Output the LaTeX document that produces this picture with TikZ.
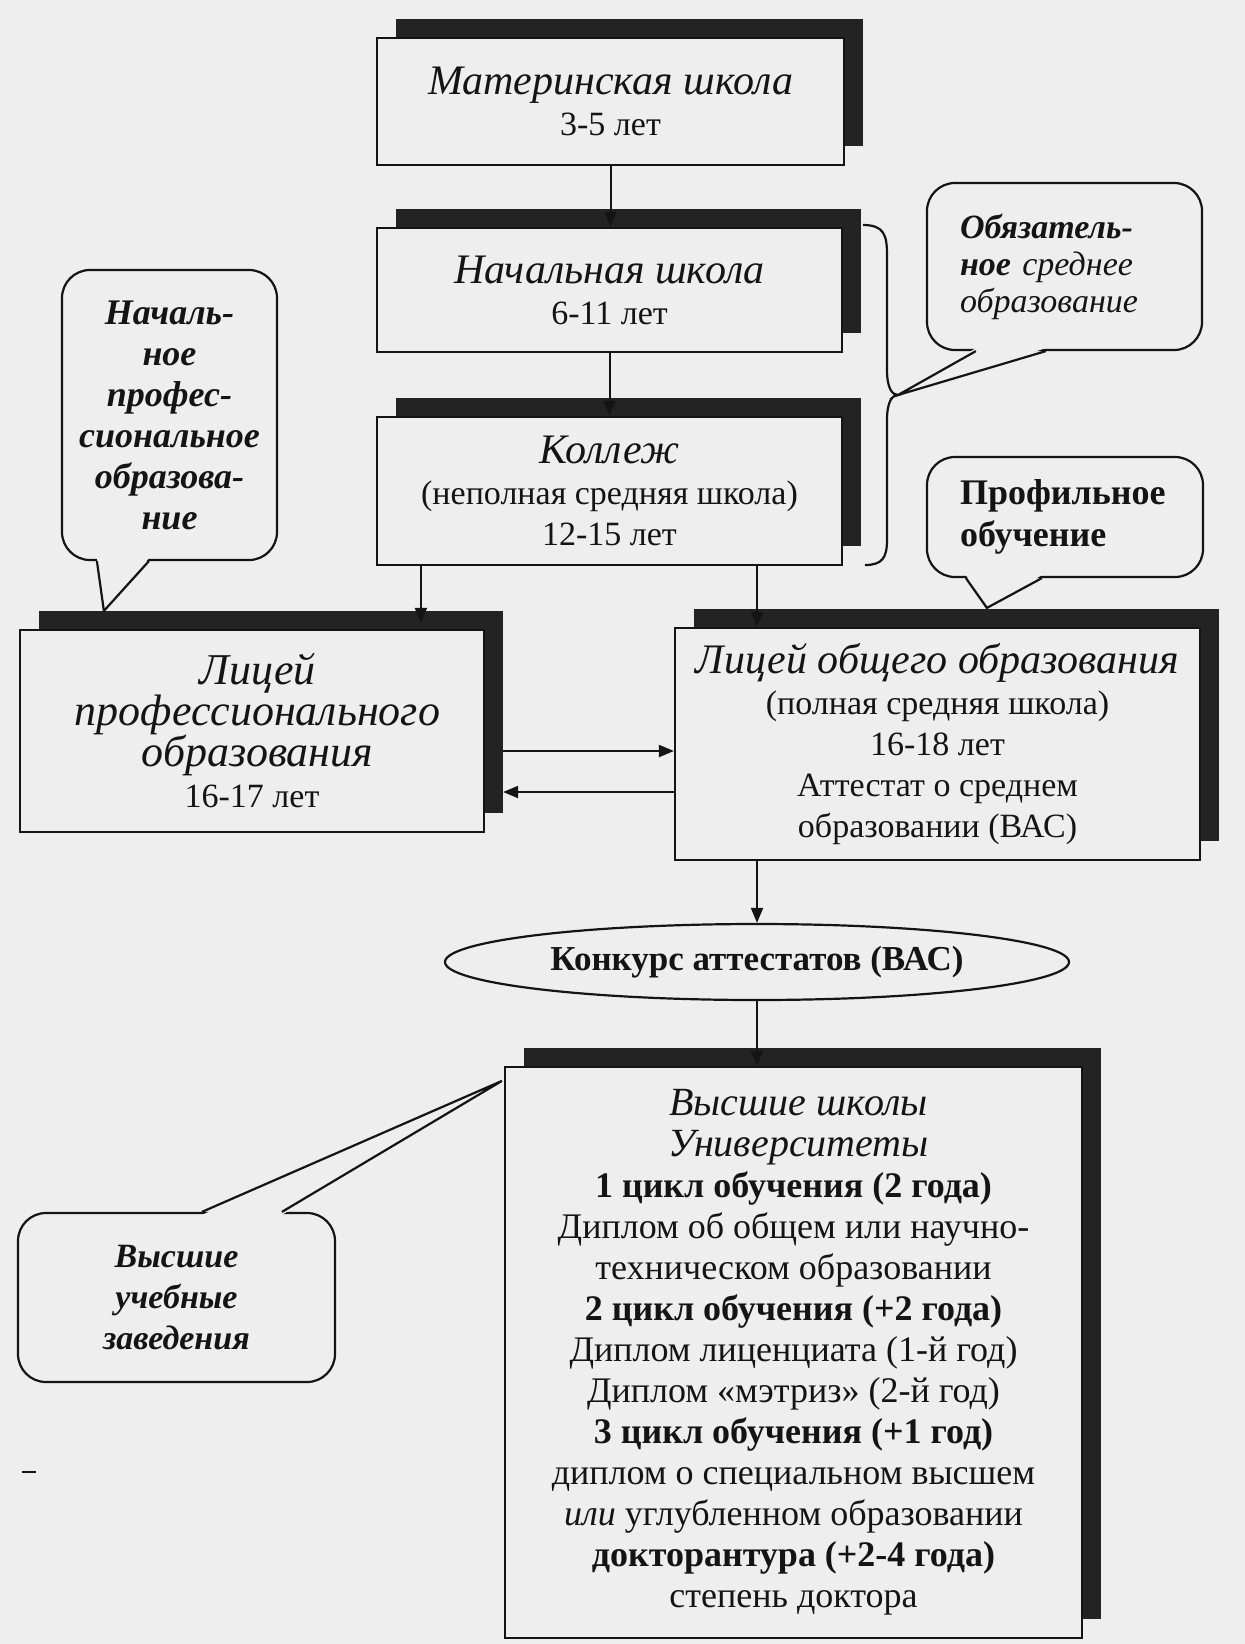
\documentclass[tikz,border=0pt]{standalone}
\usepackage{fontspec}
\setmainfont{Liberation Serif}
\usetikzlibrary{shapes.geometric,shadows,arrows.meta,calc}
\definecolor{paper}{RGB}{238,238,238}
\definecolor{ink}{RGB}{20,20,20}
\definecolor{shade}{RGB}{35,35,35}
\newcommand\TitF[1][21]{\fontsize{#1}{20.5}\selectfont\itshape}
\newcommand\RegF[1][17]{\fontsize{#1}{20.5}\selectfont\upshape}
\begin{document}
\begin{tikzpicture}[x=0.5pt,y=-0.5pt,
  box/.style={draw=ink,line width=1.1pt,fill=paper,inner sep=0pt,align=center,text=ink,
     font=\RegF,
     general shadow={fill=shade,shadow xshift=9.5pt,shadow yshift=9.5pt}},
  callout/.style={draw=ink,line width=1.1pt,fill=paper,rounded corners=14pt,inner sep=0pt,text=ink},
  calfont/.style={font=\fontsize{17}{20.5}\selectfont\bfseries\itshape},
  arr/.style={draw=ink,line width=1pt,-{Triangle[length=7.5pt,width=6pt]}},
  link/.style={draw=ink,line width=1.1pt,line join=miter},
]
\fill[paper] (0,0) rectangle (1245,1644);
\useasboundingbox (0,0) rectangle (1245,1644);

% boxes
\node[box,minimum width=233.5pt,minimum height=63.5pt] (b1) at (610.5,101.5)
  {{\TitF Материнская школа}\\3-5 лет};
\node[box,minimum width=232.5pt,minimum height=62pt] (b2) at (609.5,290)
  {{\TitF Начальная школа}\\6-11 лет};
\node[box,minimum width=232.5pt,minimum height=74pt] (b3) at (609.5,491)
  {{\TitF Коллеж}\\(неполная средняя школа)\\12-15 лет};
\node[box,minimum width=232pt,minimum height=101pt] (b4) at (252,731)
  {{\TitF[22] Лицей}\\{\TitF[22] профессионального}\\{\TitF[22] образования}\\16-17 лет};
\node[box,minimum width=262.5pt,minimum height=116pt] (b5) at (937.5,744)
  {{\TitF Лицей общего образования}\\(полная средняя школа)\\16-18 лет\\Аттестат о среднем\\образовании (ВАС)};
\node[draw=ink,line width=1.1pt,fill=paper,ellipse,minimum width=312pt,minimum height=38pt,inner sep=0pt,
  font=\fontsize{17.5}{20.5}\selectfont\bfseries,text=ink] (e) at (757,962) {Конкурс аттестатов (ВАС)};
\node[box,minimum width=288.5pt,minimum height=285.5pt,font={\RegF[18]}] (b6) at (793.5,1352.5)
  {{\TitF[20] Высшие школы}\\{\TitF[20] Университеты}\\\textbf{1 цикл обучения (2 года)}\\
   Диплом об общем или научно-\\техническом образовании\\\textbf{2 цикл обучения (+2 года)}\\
   Диплом лиценциата (1-й год)\\Диплом «мэтриз» (2-й год)\\\textbf{3 цикл обучения (+1 год)}\\
   диплом о специальном высшем\\\textit{или} углубленном образовании\\\textbf{докторантура (+2-4 года)}\\
   степень доктора};

% callouts
\node[callout,font=\fontsize{18}{20.5}\selectfont\bfseries\itshape,align=center,minimum width=107.5pt,minimum height=145pt] (c1) at (169.5,415)
  {Началь-\\ное\\профес-\\сиональное\\образова-\\ние};
\node[callout,font=\fontsize{17}{18.5}\selectfont\itshape,align=left,text width=104.5pt,inner xsep=16.5pt,
  minimum width=137.5pt,minimum height=83.5pt] (c2) at (1064.5,266.5)
  {\textbf{Обязатель-}\\\textbf{ное} среднее\\образование};
\node[callout,font=\fontsize{18}{21}\selectfont\bfseries,align=left,text width=105pt,inner xsep=16.5pt,
  minimum width=138pt,minimum height=60pt] (c3) at (1065,517)
  {Профильное\\обучение};
\node[callout,calfont,align=center,minimum width=158.5pt,minimum height=84.5pt] (c4) at (176.5,1297.5)
  {Высшие\\учебные\\заведения};

% connectors
\draw[arr] (b1.south) -- (b1.south |- b2.north);
\draw[arr] (b2.south) -- (b2.south |- b3.north);
\coordinate (k1) at ($(b3.south west)+(45,0)$);
\coordinate (k2) at ($(b3.south west)+(381,0)$);
\draw[arr] (k1) -- ($(k1 |- b4.north)+(0,-6)$);
\draw[arr] (k2) -- (k2 |- b5.north);
\coordinate (a1) at ($(b4.east)+(18,20)$);
\coordinate (a2) at ($(b4.east)+(18,61)$);
\draw[arr] (a1) -- (a1 -| b5.west);
\draw[arr] (a2 -| b5.west) -- (a2);
\draw[arr] (e.north |- b5.south) -- (e.north);
\draw[arr] (e.south) -- (e.south |- b6.north);

% brace
\coordinate (bt) at (898,395);
\draw[link] (863,225) .. controls (884,225) and (887,235) .. (887,255) -- (887,370)
  .. controls (887,388) and (892,395) .. (bt)
  .. controls (892,395) and (887,402) .. (887,420) -- (887,540)
  .. controls (887,558) and (882,565) .. (865,565);

% callout tails
\coordinate (t1a) at ($(c1.south west)+(36,0)$);
\coordinate (t1b) at ($(c1.south west)+(88,0)$);
\coordinate (t1) at ($(b4.north west)+(85,-18)$);
\fill[paper] ($(t1a)+(0,-3)$) -- (t1) -- ($(t1b)+(0,-3)$) -- cycle;
\draw[link] (t1a) -- (t1) -- (t1b);

\coordinate (t2a) at ($(c2.south west)+(50,0)$);
\coordinate (t2b) at ($(c2.south west)+(120,0)$);
\fill[paper] ($(t2a)+(0,-3)$) -- (bt) -- ($(t2b)+(0,-3)$) -- cycle;
\draw[link] (t2a) -- (bt) -- (t2b);

\coordinate (t3a) at ($(c3.south west)+(40,0)$);
\coordinate (t3b) at ($(c3.south west)+(116,0)$);
\coordinate (t3) at ($(b5.north west)+(313,-19)$);
\fill[paper] ($(t3a)+(0,-3)$) -- (t3) -- ($(t3b)+(0,-3)$) -- cycle;
\draw[link] (t3a) -- (t3) -- (t3b);

\coordinate (t4a) at ($(c4.north west)+(185,0)$);
\coordinate (t4b) at ($(c4.north west)+(265,0)$);
\coordinate (t4) at ($(b6.north west)+(-2,15)$);
\fill[paper] ($(t4a)+(0,3)$) -- (t4) -- ($(t4b)+(0,3)$) -- cycle;
\draw[link] (t4a) -- (t4) -- (t4b);

% stray mark
\draw[ink,line width=1.2pt] (22,1472) -- (36,1472);
\end{tikzpicture}
\end{document}
